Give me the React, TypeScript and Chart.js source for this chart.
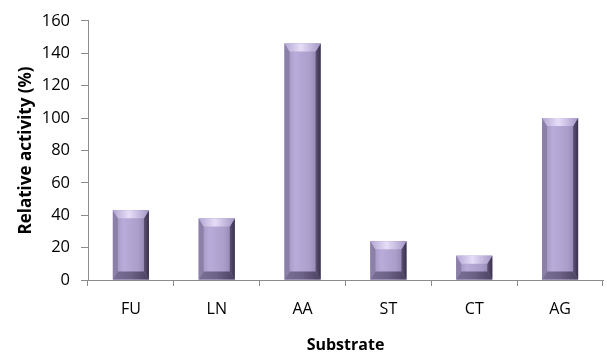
import React, { useEffect, useRef } from "react";
import { Chart, registerables } from "chart.js";

Chart.register(...registerables);

const categories = ["FU", "LN", "AA", "ST", "CT", "AG"];
const activity = [43, 38, 146, 24, 15, 100];
const yTicksMin = 0;
const yTicksMax = 160;
const yStep = 20;

const FONT = "'Open Sans', 'Noto Sans', sans-serif";

const bevelPlugin = {
  id: "bevel",
  afterDatasetsDraw(chart: any) {
    const ctx = chart.ctx;
    const meta = chart.getDatasetMeta(0);
    meta.data.forEach((bar: any) => {
      const p = bar.getProps(["x", "y", "base", "width"], true);
      const x0 = p.x - p.width / 2;
      const x1 = p.x + p.width / 2;
      const top = Math.min(p.y, p.base);
      const bot = Math.max(p.y, p.base);
      const h = bot - top;
      const by = Math.min(8, h / 3);
      const bx = Math.min(5, p.width / 4);
      ctx.save();
      const g = ctx.createLinearGradient(x0, 0, x1, 0);
      g.addColorStop(0, "#9a8fb8");
      g.addColorStop(0.3, "#b9acda");
      g.addColorStop(0.7, "#ab9ecb");
      g.addColorStop(1, "#8a7ea6");
      ctx.fillStyle = g;
      ctx.fillRect(x0, top, x1 - x0, h);
      ctx.fillStyle = "#8c80a9";
      ctx.beginPath();
      ctx.moveTo(x0, top);
      ctx.lineTo(x0 + bx, top + by);
      ctx.lineTo(x0 + bx, bot - by);
      ctx.lineTo(x0, bot);
      ctx.closePath();
      ctx.fill();
      const gr = ctx.createLinearGradient(x1 - bx, 0, x1, 0);
      gr.addColorStop(0, "#5d5276");
      gr.addColorStop(1, "#3a3149");
      ctx.fillStyle = gr;
      ctx.beginPath();
      ctx.moveTo(x1, top);
      ctx.lineTo(x1 - bx, top + by);
      ctx.lineTo(x1 - bx, bot - by);
      ctx.lineTo(x1, bot);
      ctx.closePath();
      ctx.fill();
      const gt = ctx.createLinearGradient(x0, 0, x1, 0);
      gt.addColorStop(0, "#b3a6d2");
      gt.addColorStop(0.45, "#e6def8");
      gt.addColorStop(1, "#a596c6");
      ctx.fillStyle = gt;
      ctx.beginPath();
      ctx.moveTo(x0, top);
      ctx.lineTo(x1, top);
      ctx.lineTo(x1 - bx, top + by);
      ctx.lineTo(x0 + bx, top + by);
      ctx.closePath();
      ctx.fill();
      const gb = ctx.createLinearGradient(x0, 0, x1, 0);
      gb.addColorStop(0, "#7a6f94");
      gb.addColorStop(0.5, "#6c6186");
      gb.addColorStop(1, "#4a405e");
      ctx.fillStyle = gb;
      ctx.beginPath();
      ctx.moveTo(x0, bot);
      ctx.lineTo(x1, bot);
      ctx.lineTo(x1 - bx, bot - by);
      ctx.lineTo(x0 + bx, bot - by);
      ctx.closePath();
      ctx.fill();
      ctx.restore();
    });
  },
};

export default function App() {
  const ref = useRef<HTMLCanvasElement>(null);
  useEffect(() => {
    if (!ref.current) return;
    const chart = new Chart(ref.current, {
      type: "bar",
      data: {
        labels: categories,
        datasets: [
          {
            data: activity,
            backgroundColor: "#b0a3cf",
            borderWidth: 0,
            barPercentage: 0.42,
            categoryPercentage: 1,
          },
        ],
      },
      options: {
        animation: false,
        responsive: false,
        maintainAspectRatio: false,
        layout: { padding: { left: 0, right: 4, top: 17, bottom: 0 } },
        plugins: { legend: { display: false }, tooltip: { enabled: false } },
        scales: {
          x: {
            grid: { drawOnChartArea: false, drawTicks: true, tickLength: 6, color: "#8c8c8c" },
            border: { display: true, color: "#8c8c8c" },
            ticks: { color: "#000", font: { family: FONT, size: 16 }, padding: 14 },
            title: {
              display: true,
              text: "Substrate",
              color: "#000",
              font: { family: FONT, size: 16, weight: "bold" },
              padding: { top: 0, bottom: 1 },
            },
            afterFit: (scale: any) => {
              scale.height = 76;
            },
          },
          y: {
            min: yTicksMin,
            max: yTicksMax,
            grid: { drawOnChartArea: false, drawTicks: true, tickLength: 7, color: "#8c8c8c" },
            border: { display: true, color: "#8c8c8c" },
            ticks: { stepSize: yStep, color: "#000", font: { family: FONT, size: 16.5 }, padding: 11 },
            title: {
              display: true,
              text: "Relative activity (%)",
              color: "#000",
              font: { family: FONT, size: 17, weight: "bold" },
              padding: { top: 16, bottom: 0 },
            },
            afterFit: (scale: any) => {
              scale.width = 88;
            },
          },
        },
      },
      plugins: [bevelPlugin],
    } as any);
    return () => chart.destroy();
  }, []);
  return (
    <div style={{ position: "fixed", left: 0, top: 0, width: 607, height: 356, background: "#fff" }}>
      <canvas ref={ref} width={607} height={356} style={{ width: 607, height: 356 }} />
    </div>
  );
}
